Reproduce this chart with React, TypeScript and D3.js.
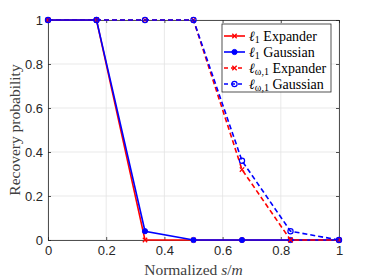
import React, { useEffect, useRef } from 'react';
import * as d3 from 'd3';

const xs = [0, 1 / 6, 2 / 6, 3 / 6, 4 / 6, 5 / 6, 1];
const l1Expander = [1, 1, 0, 0, 0, 0, 0];
const l1Gaussian = [1, 1, 0.04, 0, 0, 0, 0];
const lw1Expander = [1, 1, 1, 1, 0.32, 0, 0];
const lw1Gaussian = [1, 1, 1, 1, 0.36, 0.04, 0];
const xTicks = [0, 0.2, 0.4, 0.6, 0.8, 1];
const yTicks = [0, 0.2, 0.4, 0.6, 0.8, 1];

const series = [
  { name: 'Expander', sub: '1', values: l1Expander, color: '#ff0000', dash: null, marker: 'x' },
  { name: 'Gaussian', sub: '1', values: l1Gaussian, color: '#0000ff', dash: null, marker: 'dot' },
  { name: 'Expander', sub: 'ω,1', values: lw1Expander, color: '#ff0000', dash: '5,3', marker: 'x' },
  { name: 'Gaussian', sub: 'ω,1', values: lw1Gaussian, color: '#0000ff', dash: '5,3', marker: 'circle' },
];

const W = 374, H = 280;
const m = { left: 48, right: 35, top: 20, bottom: 40 };

export default function App() {
  const svgRef = useRef<SVGSVGElement>(null);

  useEffect(() => {
    const svg = d3.select(svgRef.current);
    svg.selectAll('*').remove();

    const x = d3.scaleLinear().domain([0, 1]).range([m.left, W - m.right]);
    const y = d3.scaleLinear().domain([0, 1]).range([H - m.bottom, m.top]);
    const axisCol = '#262626';

    svg.append('rect').attr('x', 0).attr('y', 0).attr('width', W).attr('height', H).attr('fill', '#fff');

    // grid
    const g = svg.append('g');
    g.selectAll('.gx').data(xTicks).enter().append('line')
      .attr('x1', d => x(d)).attr('x2', d => x(d))
      .attr('y1', y(0)).attr('y2', y(1))
      .attr('stroke', '#e3e3e3').attr('stroke-width', 0.8);
    g.selectAll('.gy').data(yTicks).enter().append('line')
      .attr('x1', x(0)).attr('x2', x(1))
      .attr('y1', d => y(d)).attr('y2', d => y(d))
      .attr('stroke', '#e3e3e3').attr('stroke-width', 0.8);

    // axes (ticks inward)
    const xAxis = svg.append('g').attr('transform', `translate(0,${y(0)})`)
      .call(d3.axisBottom(x).tickValues(xTicks).tickSize(-3).tickPadding(6).tickFormat(d3.format('~g')));
    const yAxis = svg.append('g').attr('transform', `translate(${x(0)},0)`)
      .call(d3.axisLeft(y).tickValues(yTicks).tickSize(-3).tickPadding(5).tickFormat(d3.format('~g')));
    const xAxisTop = svg.append('g').attr('transform', `translate(0,${y(1)})`)
      .call(d3.axisTop(x).tickValues(xTicks).tickSize(-3).tickFormat(() => ''));
    const yAxisRight = svg.append('g').attr('transform', `translate(${x(1)},0)`)
      .call(d3.axisRight(y).tickValues(yTicks).tickSize(-3).tickFormat(() => ''));
    [xAxis, yAxis, xAxisTop, yAxisRight].forEach(a => {
      a.select('.domain').attr('stroke', axisCol).attr('stroke-width', 0.8);
      a.selectAll('.tick line').attr('stroke', axisCol).attr('stroke-width', 0.8);
      a.selectAll('.tick text').attr('fill', axisCol)
        .style('font-family', '"Liberation Sans", Arial, sans-serif').style('font-size', '13px');
    });

    // lines
    series.forEach(s => {
      const pts = xs.map((xv, i) => [xv, s.values[i]] as [number, number]);
      const line = d3.line<[number, number]>().x(d => x(d[0])).y(d => y(d[1]));
      svg.append('path').datum(pts).attr('d', line)
        .attr('fill', 'none').attr('stroke', s.color).attr('stroke-width', 1.6)
        .attr('stroke-dasharray', s.dash);
      const mk = svg.append('g');
      pts.forEach(p => drawMarker(mk, s.marker, x(p[0]), y(p[1]), s.color));
    });

    function drawMarker(sel: any, type: string, cx: number, cy: number, color: string) {
      if (type === 'x') {
        const r = 2.2;
        sel.append('path').attr('d', `M${cx - r},${cy - r}L${cx + r},${cy + r}M${cx - r},${cy + r}L${cx + r},${cy - r}`)
          .attr('stroke', color).attr('stroke-width', 1.3);
      } else if (type === 'dot') {
        sel.append('circle').attr('cx', cx).attr('cy', cy).attr('r', 2.6).attr('fill', color).attr('stroke', color);
      } else {
        sel.append('circle').attr('cx', cx).attr('cy', cy).attr('r', 2.6).attr('fill', 'none')
          .attr('stroke', color).attr('stroke-width', 1.2);
      }
    }

    // axis labels
    const serif = '"Liberation Serif", "DejaVu Serif", serif';
    const xl = svg.append('text').attr('x', (x(0) + x(1)) / 2).attr('y', 275)
      .attr('text-anchor', 'middle').attr('fill', '#404040').style('font-family', serif).style('font-size', '15.5px');
    xl.append('tspan').text('Normalized ');
    xl.append('tspan').attr('font-style', 'italic').text('s');
    xl.append('tspan').text('/');
    xl.append('tspan').attr('font-style', 'italic').text('m');

    svg.append('text').attr('transform', `translate(20,${(y(0) + y(1)) / 2}) rotate(-90)`)
      .attr('text-anchor', 'middle').attr('fill', '#404040').style('font-family', serif).style('font-size', '15.5px')
      .text('Recovery probability');

    // legend
    const lx = 222, ly = 24, lw = 109, lh = 68;
    const lg = svg.append('g');
    lg.append('rect').attr('x', lx).attr('y', ly).attr('width', lw).attr('height', lh)
      .attr('fill', '#fff').attr('stroke', axisCol).attr('stroke-width', 0.8);
    series.forEach((s, i) => {
      const yy = ly + 12 + i * 16;
      lg.append('line').attr('x1', lx + 2).attr('x2', lx + 23).attr('y1', yy).attr('y2', yy)
        .attr('stroke', s.color).attr('stroke-width', 1.6).attr('stroke-dasharray', s.dash ? '4,3' : null);
      drawMarker(lg, s.marker, lx + 12.5, yy, s.color);
      const t = lg.append('text').attr('x', lx + 27).attr('y', yy + 4.5)
        .attr('fill', '#000').style('font-family', serif).style('font-size', '14px');
      t.append('tspan').attr('font-style', 'italic').text('ℓ');
      t.append('tspan').attr('font-size', '10px').attr('dy', 2.5).text(s.sub);
      t.append('tspan').attr('dy', -2.5).text(' ' + s.name);
    });
  }, []);

  return (
    <svg ref={svgRef} width={W} height={H} style={{ position: 'absolute', left: 0, top: 0 }} />
  );
}
